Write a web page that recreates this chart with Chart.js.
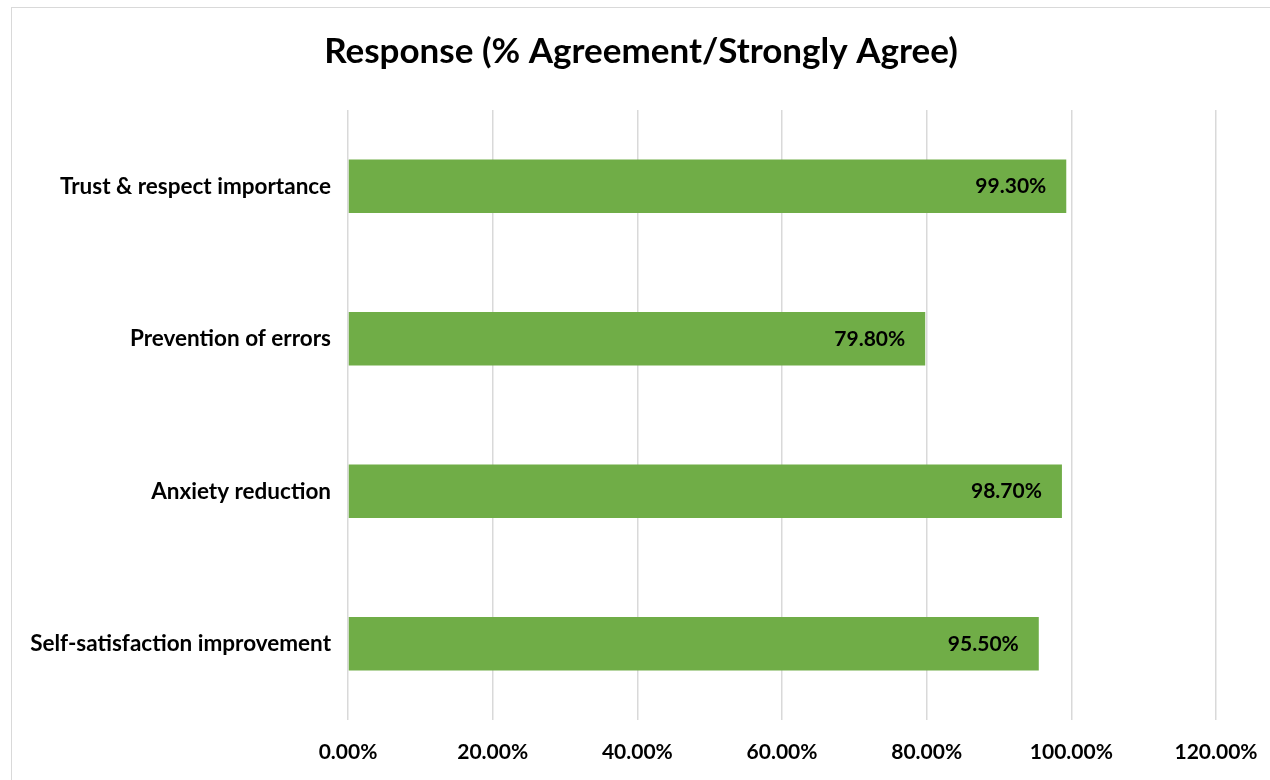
<!DOCTYPE html>
<html>
<head>
<meta charset="utf-8">
<script src="https://cdn.jsdelivr.net/npm/chart.js@4"></script>
<style>
  body { margin: 0; background: #fff; }
  #wrap { position: relative; width: 1270px; height: 780px; }
  #frame { position: absolute; left: 11px; top: 7px; width: 1280px; height: 800px; border: 1px solid #d9d9d9; }
  canvas { position: absolute; left: 0; top: 0; }
</style>
</head>
<body>
<div id="wrap">
  <div id="frame"></div>
  <canvas id="chart" width="1270" height="780"></canvas>
</div>
<script>
// ~~ data ~~
var chartTitle = "Response (% Agreement/Strongly Agree)";
var categories = ["Trust & respect importance", "Prevention of errors", "Anxiety reduction", "Self-satisfaction improvement"];
var agreement = [99.3, 79.8, 98.7, 95.5];
var xTicks = [0, 20, 40, 60, 80, 100, 120];

var FONT = "Lato, 'Open Sans', sans-serif";

// title centred on the framed box (not on the padded layout)
var frameTitle = {
  id: 'frameTitle',
  afterDraw: function(chart) {
    var ctx = chart.ctx;
    ctx.save();
    ctx.font = "bold 35px " + FONT;
    ctx.fillStyle = "#000";
    ctx.textAlign = "center";
    ctx.textBaseline = "middle";
    ctx.fillText(chartTitle, 641, 52);
    ctx.restore();
  }
};

// labels drawn inside the bar end
var barLabels = {
  id: 'barLabels',
  afterDatasetsDraw: function(chart) {
    var ctx = chart.ctx;
    var meta = chart.getDatasetMeta(0);
    ctx.save();
    ctx.font = "bold 21px " + FONT;
    ctx.fillStyle = "#000";
    ctx.textAlign = "right";
    ctx.textBaseline = "middle";
    meta.data.forEach(function(bar, i) {
      ctx.fillText(agreement[i].toFixed(2) + "%", bar.x - 20, bar.y);
    });
    ctx.restore();
  }
};

new Chart(document.getElementById("chart"), {
  type: 'bar',
  data: {
    labels: categories,
    datasets: [{
      label: "Response",
      data: agreement,
      backgroundColor: "#70AD47",
      barPercentage: 0.35,
      categoryPercentage: 1
    }]
  },
  options: {
    indexAxis: 'y',
    responsive: false,
    animation: false,
    layout: { padding: { left: 0, right: 54, top: 110, bottom: 10 } },
    plugins: {
      legend: { display: false },
      tooltip: { enabled: false },
      title: { display: false }
    },
    scales: {
      x: {
        min: 0,
        max: 120,
        afterBuildTicks: function(scale) {
          scale.ticks = xTicks.map(function(v) { return { value: v }; });
        },
        afterFit: function(scale) {
          scale.height = 50;
          scale.paddingLeft = 0;
          scale.paddingRight = 0;
        },
        grid: { color: "#d9d9d9", lineWidth: 1.5, drawTicks: false },
        border: { display: false },
        ticks: {
          padding: 20,
          color: "#000",
          font: { family: FONT, size: 21, weight: 'bold' },
          callback: function(v) { return v.toFixed(2) + "%"; }
        }
      },
      y: {
        afterFit: function(scale) { scale.width = 348; },
        grid: { display: false },
        border: { display: false },
        ticks: {
          padding: 9,
          color: "#000",
          font: { family: FONT, size: 22.5, weight: 'bold' }
        }
      }
    }
  },
  plugins: [barLabels, frameTitle]
});
</script>
</body>
</html>
